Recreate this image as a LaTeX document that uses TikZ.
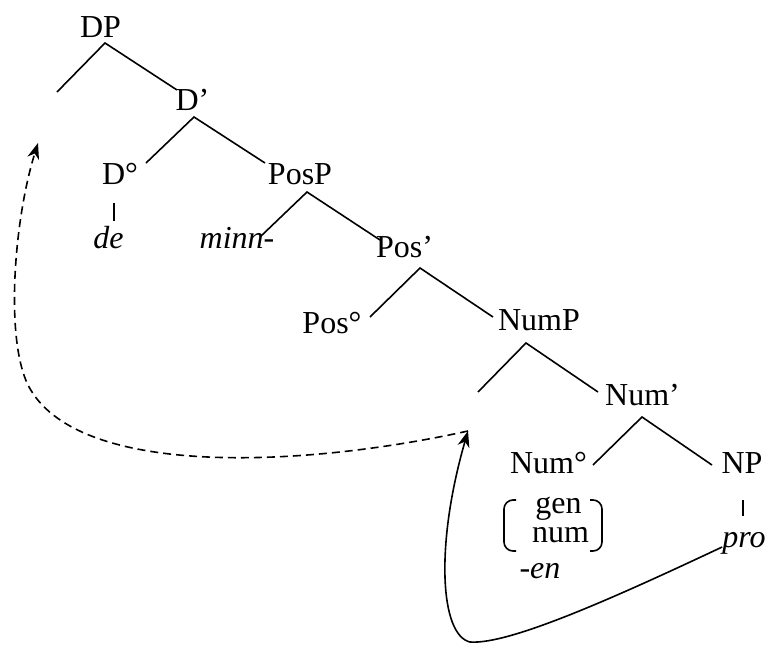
\documentclass[tikz,border=0pt]{standalone}
\usepackage{fontspec}
\setmainfont{Liberation Serif}[ItalicFont={Liberation Serif Italic}]
\usetikzlibrary{arrows.meta}
\begin{document}
\begin{tikzpicture}[x=1pt,y=-1pt,
  lbl/.style={inner sep=0pt, anchor=base, font=\fontsize{32}{38}\selectfont},
  itl/.style={inner sep=0pt, anchor=base, font=\fontsize{32}{38}\selectfont\itshape},
  branch/.style={line width=1.6pt},
  brk/.style={line width=1.6pt, rounded corners=9pt},
  mv/.style={line width=1.6pt, -{Stealth[length=16pt,width=12pt,inset=5pt]}},
  mvd/.style={mv, dash pattern=on 8pt off 5pt}
  ]
\useasboundingbox (0,0) rectangle (769,646);
% labels
\node[lbl] (DP) at (100.5,37) {DP};
\node[lbl] (Dbar) at (192.5,110) {D'};
\node[lbl] (D0) at (120,184) {D°};
\node[itl] (de) at (108.5,248) {de};
\node[itl] (minn) at (237,248) {minn-};
\node[lbl] (PosP) at (300,184) {PosP};
\node[lbl] (Posbar) at (404.5,257) {Pos'};
\node[lbl] (Pos0) at (332,333) {Pos°};
\node[lbl] (NumP) at (539,330) {NumP};
\node[lbl] (Numbar) at (642.5,405) {Num'};
\node[lbl] (Num0) at (548.5,473) {Num°};
\node[lbl] (NP) at (742,473) {NP};
\node[itl] (pro) at (744,547) {pro};
\node[lbl] (gen) at (558.5,513) {gen};
\node[lbl] (num) at (560.5,542) {num};
\node[itl] (en) at (540,578) {-en};
% branch points
\coordinate (DPa) at (105,43);
\coordinate (DPl) at (57,92);
\coordinate (DPr) at (177,90);
\coordinate (Dba) at (194,117);
\coordinate (Dbl) at (146,163);
\coordinate (Dbr) at (265,163);
\coordinate (D0t) at (114,203);
\coordinate (D0b) at (114,221);
\coordinate (PPa) at (307,192);
\coordinate (PPl) at (260,237);
\coordinate (PPr) at (380,240);
\coordinate (Pba) at (420,268);
\coordinate (Pbl) at (370,317);
\coordinate (Pbr) at (493,317);
\coordinate (NPa) at (526,343);
\coordinate (NPl) at (478,392);
\coordinate (NPr) at (598,392);
\coordinate (Nba) at (642,417);
\coordinate (Nbl) at (593,465);
\coordinate (Nbr) at (712,465);
\coordinate (NPt) at (743,500);
\coordinate (NPb) at (743,516);
\coordinate (t) at (468,431);
\coordinate (spec) at (38,143);
% branches
\draw[branch] (DPl) -- (DPa) -- (DPr);
\draw[branch] (Dbl) -- (Dba) -- (Dbr);
\draw[branch] (D0t) -- (D0b);
\draw[branch] (PPl) -- (PPa) -- (PPr);
\draw[branch] (Pbl) -- (Pba) -- (Pbr);
\draw[branch] (NPl) -- (NPa) -- (NPr);
\draw[branch] (Nbl) -- (Nba) -- (Nbr);
\draw[branch] (NPt) -- (NPb);
% feature brackets
\draw[brk] (516,500) -- (504,500) -- (504,551) -- (516,551);
\draw[brk] (590,500) -- (602,500) -- (602,551) -- (590,551);
% movement arrows
\draw[mvd] (t) .. controls (300,468) and (75,478) .. (28,385)
  .. controls (5,338) and (14,220) .. (spec);
\draw[mv] (pro.base west) .. controls (620,595) and (510,645) .. (470,642)
  .. controls (440,635) and (435,545) .. (t);
\end{tikzpicture}
\end{document}
